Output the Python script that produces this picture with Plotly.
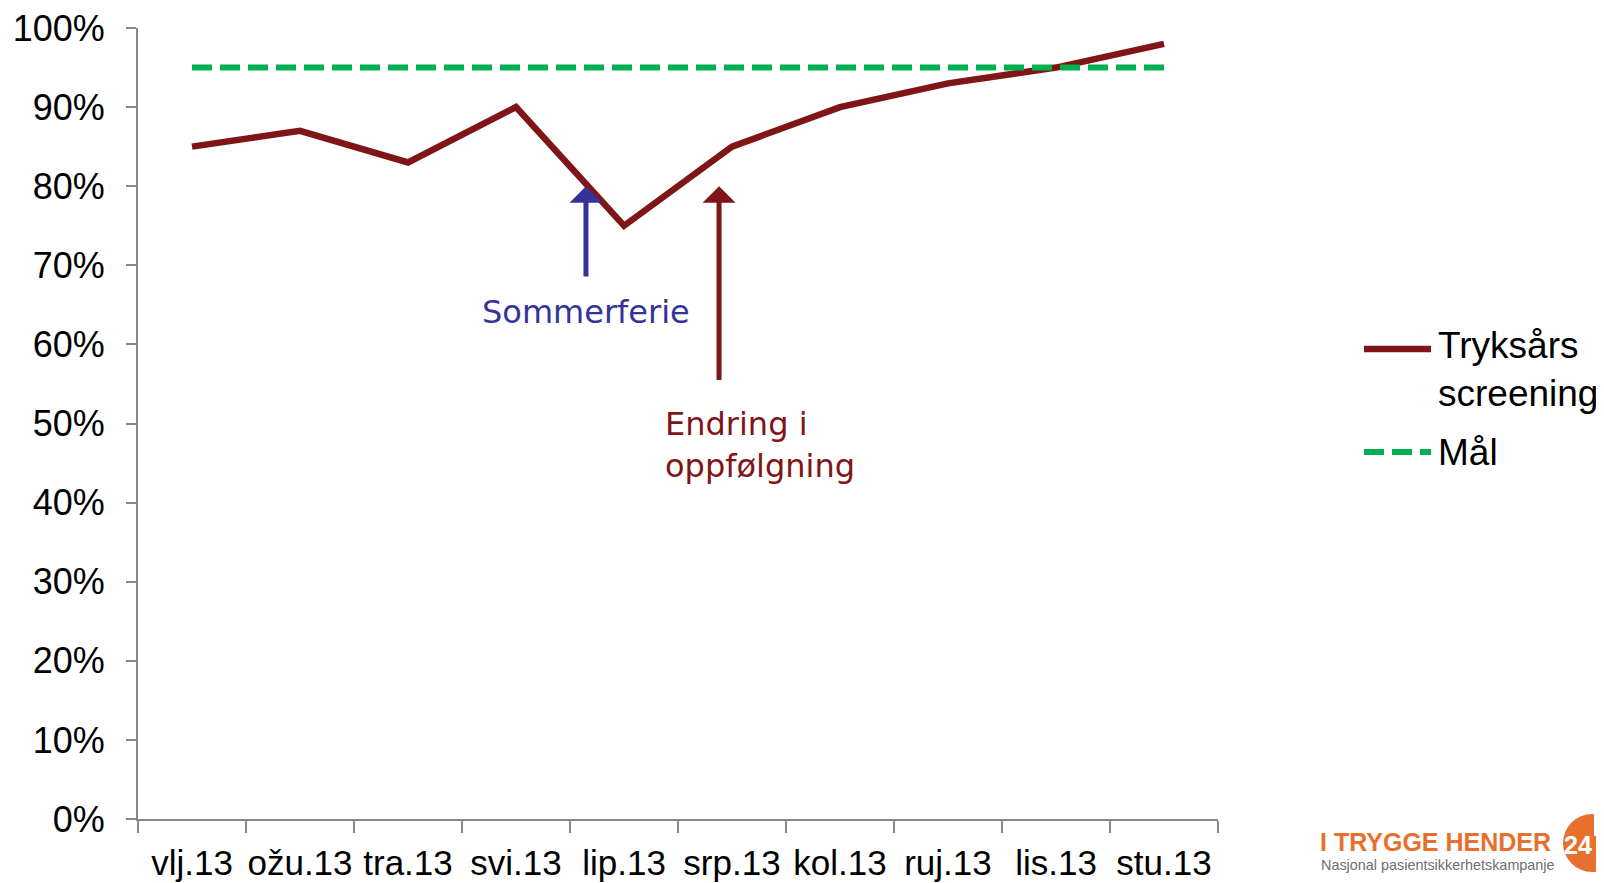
import plotly.graph_objects as go

# ---- data ----
months = ["vlj.13", "ožu.13", "tra.13", "svi.13", "lip.13", "srp.13", "kol.13", "ruj.13", "lis.13", "stu.13"]
screening = [0.85, 0.87, 0.83, 0.90, 0.75, 0.85, 0.90, 0.93, 0.95, 0.98]
goal = [0.95] * len(months)
series_names = ["Tryksårs<br>screening", "Mål"]

# ---- layout geometry (window pixels; page body has an 8px margin) ----
OFF = 8
W, H = 1604 - OFF, 883 - OFF
L, R, T, B = 138 - OFF, 386, 28 - OFF, 64
PW, PH = W - L - R, H - T - B

def px(x):
    return (x - OFF - L) / PW

def py(y):
    return (H - B - (y - OFF)) / PH

RED = "#7F1517"
GREEN = "#00B050"
BLUE = "#333399"
GRAY = "#878787"
ORANGE = "#E8702E"
FONT = "Arial, Liberation Sans, sans-serif"
VFONT = "DejaVu Sans, Verdana, sans-serif"

fig = go.Figure()
fig.add_trace(go.Scatter(x=months, y=screening, mode="lines", name=series_names[0],
                         line=dict(color=RED, width=6.5), showlegend=False))
fig.add_trace(go.Scatter(x=months, y=goal, mode="lines", name=series_names[1],
                         line=dict(color=GREEN, width=6, dash="20px,8px"), showlegend=False))

fig.update_layout(
    width=W, height=H,
    margin=dict(l=L, r=R, t=T, b=B, autoexpand=False),
    paper_bgcolor="white", plot_bgcolor="white",
    font=dict(family=FONT, color="black"),
)
fig.update_xaxes(
    type="category", range=[-0.5, len(months) - 0.5], tickson="boundaries",
    showline=True, linecolor=GRAY, linewidth=2, showgrid=False, zeroline=False,
    ticks="outside", ticklen=12, tickwidth=2, tickcolor=GRAY, tickangle=0,
    tickfont=dict(size=35, family=FONT, color="black"), ticklabelstandoff=12,
    ticklabeloverflow="allow",
)
fig.update_yaxes(
    range=[0, 1], dtick=0.1, tickformat=".0%",
    showline=True, linecolor=GRAY, linewidth=2, showgrid=False, zeroline=False,
    ticks="outside", ticklen=10, tickwidth=2, tickcolor=GRAY,
    tickfont=dict(size=36, family=FONT, color="black"), ticklabelstandoff=14,
    ticklabeloverflow="allow",
)

# ---- arrows and notes ----
fig.add_annotation(x=3.648, y=0.80, ax=3.648, ay=0.684, xref="x", yref="y", axref="x", ayref="y",
                   text="", showarrow=True, arrowhead=1, arrowwidth=5, arrowsize=1.1,
                   arrowcolor=BLUE, standoff=0)
fig.add_annotation(x=3.648, y=0.641, xref="x", yref="y", text="Sommerferie", showarrow=False,
                   font=dict(family=VFONT, size=32, color=BLUE), xanchor="center", yanchor="middle")
fig.add_annotation(x=4.88, y=0.80, ax=4.88, ay=0.553, xref="x", yref="y", axref="x", ayref="y",
                   text="", showarrow=True, arrowhead=1, arrowwidth=5, arrowsize=1.1,
                   arrowcolor=RED, standoff=0)
fig.add_annotation(x=4.36, y=0.473, xref="x", yref="y", text="Endring i<br>oppfølgning", showarrow=False,
                   font=dict(family=VFONT, size=32, color=RED), xanchor="left", yanchor="middle",
                   align="left")

# ---- legend (drawn) ----
fig.add_shape(type="line", xref="paper", yref="paper", x0=px(1364), x1=px(1431), y0=py(349), y1=py(349),
              line=dict(color=RED, width=6.5))
fig.add_shape(type="line", xref="paper", yref="paper", x0=px(1364), x1=px(1431), y0=py(452), y1=py(452),
              line=dict(color=GREEN, width=6, dash="20px,8px"))
fig.add_annotation(x=px(1436), y=py(370), xref="paper", yref="paper", text=series_names[0],
                   showarrow=False, xanchor="left", yanchor="middle", align="left",
                   font=dict(family=FONT, size=37, color="black"))
fig.add_annotation(x=px(1436), y=py(452), xref="paper", yref="paper", text=series_names[1],
                   showarrow=False, xanchor="left", yanchor="middle", align="left",
                   font=dict(family=FONT, size=37, color="black"))

# ---- logo ----
fig.add_shape(type="circle", xref="paper", yref="paper", x0=px(1563), x1=px(1621), y0=py(872), y1=py(814),
              fillcolor=ORANGE, line=dict(width=0))
fig.add_shape(type="line", xref="paper", yref="paper", x0=px(1595), x1=px(1595), y0=py(836), y1=py(812),
              line=dict(color="white", width=2))
fig.add_annotation(x=px(1578), y=py(845), xref="paper", yref="paper", text="<b>24</b>", showarrow=False,
                   xanchor="center", yanchor="middle", font=dict(family=FONT, size=25, color="white"))
fig.add_annotation(x=px(1318), y=py(842), xref="paper", yref="paper", text="<b>I TRYGGE HENDER</b>",
                   showarrow=False, xanchor="left", yanchor="middle",
                   font=dict(family=FONT, size=25, color=ORANGE))
fig.add_annotation(x=px(1319), y=py(865), xref="paper", yref="paper", text="Nasjonal pasientsikkerhetskampanje",
                   showarrow=False, xanchor="left", yanchor="middle",
                   font=dict(family=FONT, size=14.4, color="#6E6E6E"))

fig.write_html("out.html")
